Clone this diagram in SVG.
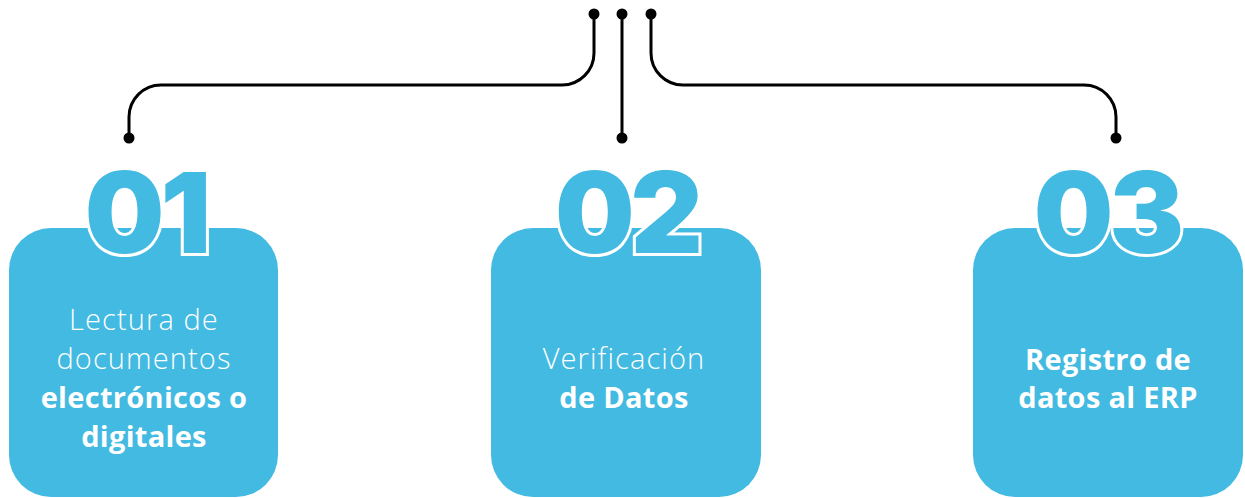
<svg xmlns="http://www.w3.org/2000/svg" width="1245" height="498" viewBox="0 0 1245 498">
<style>
.box{fill:#42BAE1}
.num{font-family:Inter,"Noto Sans",sans-serif;font-weight:900;font-size:112px;fill:#42BAE1;stroke:#fff;stroke-width:6;paint-order:stroke;text-anchor:middle;letter-spacing:-4px}
.t{font-family:"Open Sans","Noto Sans",sans-serif;font-size:29px;fill:#fff;text-anchor:middle}
.l{font-weight:300;letter-spacing:1.1px}
.b{font-weight:700;letter-spacing:0.3px}
.c{fill:none;stroke:#000;stroke-width:3}
.d{fill:#000}
</style>
<rect width="1245" height="498" fill="#fff"/>
<g id="connectors">
<path class="c" d="M594,14 V53 A32,32 0 0 1 562,85 H161 A32,32 0 0 0 129,117 V138"/>
<path class="c" d="M622,14 V138"/>
<path class="c" d="M651,14 V53 A32,32 0 0 0 683,85 H1084 A32,32 0 0 1 1116,117 V138"/>
<circle class="d" cx="594" cy="14" r="5.5"/>
<circle class="d" cx="622" cy="14" r="5.5"/>
<circle class="d" cx="651" cy="14" r="5.5"/>
<circle class="d" cx="129" cy="138" r="5.5"/>
<circle class="d" cx="622" cy="138" r="5.5"/>
<circle class="d" cx="1116" cy="138" r="5.5"/>
</g>
<g id="step1">
<rect class="box" x="9" y="228" width="269" height="269" rx="42"/>
<text class="num" x="146" y="253">01</text>
<text class="t l" x="144" y="330">Lectura de</text>
<text class="t l" x="144" y="369">documentos</text>
<text class="t b" x="144" y="408">electrónicos o</text>
<text class="t b" x="144" y="447">digitales</text>
</g>
<g id="step2">
<rect class="box" x="491" y="228" width="270" height="269" rx="42"/>
<text class="num" x="627" y="253">02</text>
<text class="t l" x="624" y="369">Verificación</text>
<text class="t b" x="624" y="408">de Datos</text>
</g>
<g id="step3">
<rect class="box" x="973" y="228" width="270" height="269" rx="42"/>
<text class="num" x="1107" y="253">03</text>
<text class="t b" x="1108" y="370">Registro de</text>
<text class="t b" x="1108" y="408">datos al ERP</text>
</g>
</svg>
